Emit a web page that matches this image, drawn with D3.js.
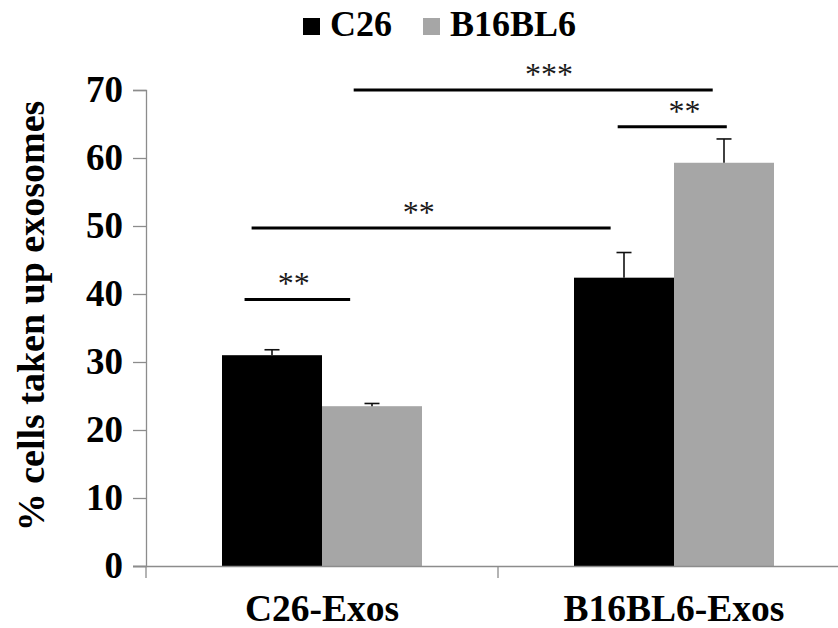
<!DOCTYPE html>
<html>
<head>
<meta charset="utf-8">
<script src="https://cdn.jsdelivr.net/npm/d3@7/dist/d3.min.js"></script>
<style>
  html, body { margin: 0; padding: 0; background: #fff; }
  svg text { font-family: "Liberation Serif", "Times New Roman", serif; }
</style>
</head>
<body>
<svg id="chart" width="838" height="628"></svg>
<script>
// Exosome uptake: % of cells that took up exosomes, per recipient cell line
const groups = ["C26-Exos", "B16BL6-Exos"];
const seriesNames = ["C26", "B16BL6"];
const seriesColors = ["#000000", "#a6a6a6"];
const c26Values = [31.0, 42.4];
const b16Values = [23.5, 59.3];
const c26Errors = [0.8, 3.7];
const b16Errors = [0.4, 3.5];
const yTicks = [0, 10, 20, 30, 40, 50, 60, 70];

// Significance brackets: x ends in group units (0 = first group centre, 1 = second),
// level in % units
const sigFrom = [-0.22, -0.2, 0.09, 0.84];
const sigTo = [0.08, 0.82, 1.11, 1.15];
const sigLevel = [39.2, 49.7, 70.0, 64.6];
const sigLabel = ["**", "**", "***", "**"];
const sigLabelShift = [-0.01, -0.035, 0.045, 0.035];

const svg = d3.select("#chart");
const font = '"Liberation Serif", "Times New Roman", serif';

const y = d3.scaleLinear().domain([0, 70]).range([566, 90]);
const x0 = d3.scaleBand().domain(groups).range([146, 850]).paddingInner(0).paddingOuter(0);
const barW = 100;
const x1 = d3.scaleBand().domain(seriesNames).range([0, barW * 2]);
const groupOffset = (x0.bandwidth() - barW * 2) / 2;
const gx = d3.scaleLinear().domain([0, 1])
  .range([x0(groups[0]) + x0.bandwidth() / 2, x0(groups[1]) + x0.bandwidth() / 2]);

const rows = [];
groups.forEach((g, i) => {
  rows.push({ group: g, series: seriesNames[0], value: c26Values[i], err: c26Errors[i], color: seriesColors[0] });
  rows.push({ group: g, series: seriesNames[1], value: b16Values[i], err: b16Errors[i], color: seriesColors[1] });
});

const axisColor = "#8c8c8c";

// Y axis
const yAxis = d3.axisLeft(y).tickValues(yTicks).tickSize(13).tickPadding(10).tickFormat(d3.format("d"));
const gy = svg.append("g").attr("transform", "translate(146,0)").call(yAxis);
gy.attr("font-family", font);
gy.select(".domain").attr("stroke", axisColor).attr("stroke-width", 1.3);
gy.selectAll(".tick line").attr("stroke", axisColor).attr("stroke-width", 1.3);
gy.selectAll(".tick text").style("font-family", font).attr("font-size", 37).attr("font-weight", "bold").attr("fill", "#000");

// Bars
svg.append("g").selectAll("rect").data(rows).join("rect")
  .attr("x", d => x0(d.group) + groupOffset + x1(d.series))
  .attr("width", x1.bandwidth())
  .attr("y", d => y(d.value))
  .attr("height", d => y(0) - y(d.value))
  .attr("fill", d => d.color);

// Error bars (upper half only)
const eb = svg.append("g").attr("stroke", "#111").attr("stroke-width", 1.6);
rows.forEach(d => {
  const cx = x0(d.group) + groupOffset + x1(d.series) + x1.bandwidth() / 2;
  eb.append("line").attr("x1", cx).attr("x2", cx).attr("y1", y(d.value)).attr("y2", y(d.value + d.err));
  eb.append("line").attr("x1", cx - 7.5).attr("x2", cx + 7.5).attr("y1", y(d.value + d.err)).attr("y2", y(d.value + d.err));
});

// X axis
const xAxis = d3.axisBottom(x0).tickSize(0).tickFormat("");
const gxAxis = svg.append("g").attr("transform", `translate(0,${y(0)})`).call(xAxis);
gxAxis.select(".domain").remove();
gxAxis.append("line").attr("x1", 133).attr("x2", 850).attr("y1", 0.5).attr("y2", 0.5)
  .attr("stroke", axisColor).attr("stroke-width", 1.3);
// category separators
const seps = [x0(groups[0]), x0(groups[1])];
gxAxis.selectAll("line.sep").data(seps).join("line").attr("class", "sep")
  .attr("x1", d => d).attr("x2", d => d).attr("y1", 0).attr("y2", 12)
  .attr("stroke", axisColor).attr("stroke-width", 1.3);
// category labels
svg.append("g").selectAll("text").data(groups).join("text")
  .attr("x", d => x0(d) + x0.bandwidth() / 2)
  .attr("y", 621)
  .attr("text-anchor", "middle")
  .style("font-family", font)
  .attr("font-size", 37.5).attr("font-weight", "bold")
  .text(d => d);

// Y title
svg.append("text")
  .attr("transform", "translate(44,316) rotate(-90)")
  .attr("text-anchor", "middle")
  .style("font-family", font)
  .attr("font-size", 38).attr("font-weight", "bold")
  .text("% cells taken up exosomes");

// Significance brackets
const sig = svg.append("g");
sigLevel.forEach((lv, i) => {
  sig.append("line")
    .attr("x1", gx(sigFrom[i])).attr("x2", gx(sigTo[i]))
    .attr("y1", y(lv)).attr("y2", y(lv))
    .attr("stroke", "#000").attr("stroke-width", 3);
  sig.append("text")
    .attr("x", gx((sigFrom[i] + sigTo[i]) / 2 + sigLabelShift[i]))
    .attr("y", y(lv) - 5)
    .attr("text-anchor", "middle")
    .style("font-family", font)
    .attr("font-size", 32)
    .attr("fill", "#1a1a1a")
    .text(sigLabel[i]);
});

// Legend
const legend = svg.append("g");
const legendX = [303, 423];
seriesNames.forEach((s, i) => {
  legend.append("rect").attr("x", legendX[i]).attr("y", 18).attr("width", 17).attr("height", 17).attr("fill", seriesColors[i]);
  legend.append("text").attr("x", legendX[i] + 27).attr("y", 36)
    .style("font-family", font)
    .attr("font-size", 36).attr("font-weight", "bold").text(s);
});
</script>
</body>
</html>
